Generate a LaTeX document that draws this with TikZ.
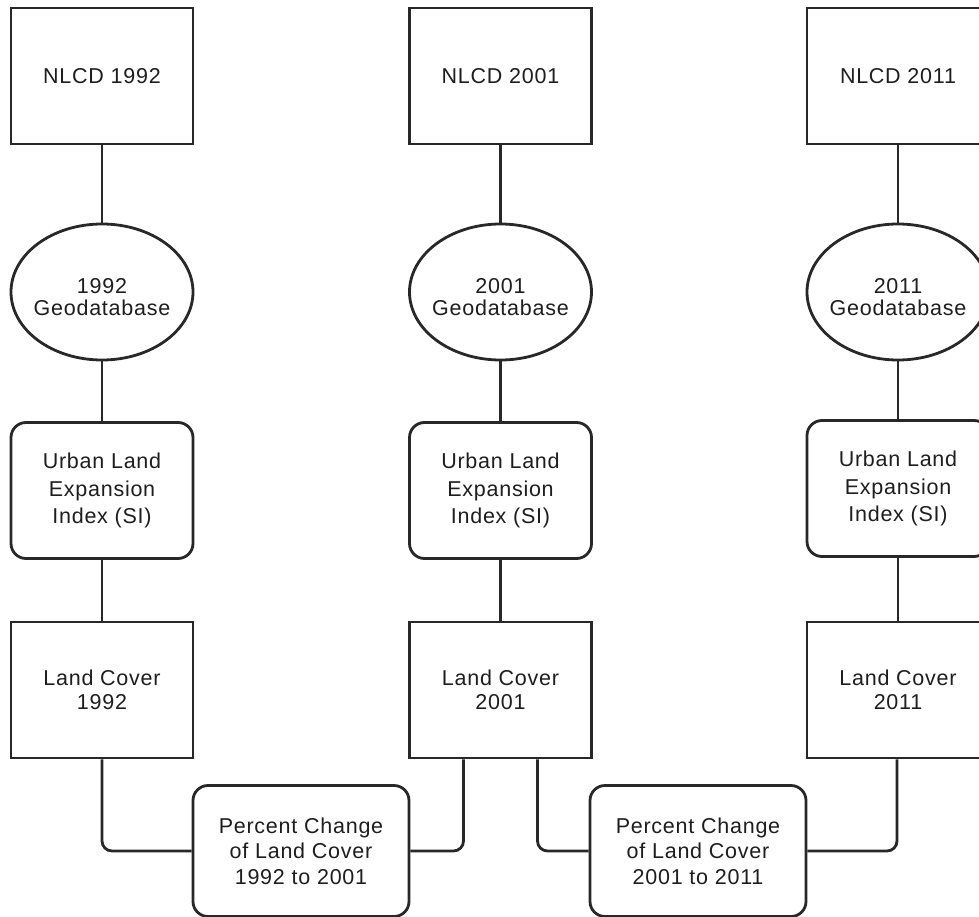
\documentclass[tikz,border=0pt]{standalone}
\usepackage{fontspec}
\setmainfont{Liberation Sans}[LetterSpace=3.5]
\usetikzlibrary{shapes.geometric}
\definecolor{lineclr}{RGB}{40,40,40}
\definecolor{textclr}{RGB}{30,30,30}
\tikzset{
  sqbox/.style={draw=lineclr, line width=2.8pt, fill=white, rectangle, minimum width=182pt, minimum height=136pt, inner sep=0pt, align=center, text=textclr},
  rndbox/.style={sqbox, rounded corners=15pt},
  pcbox/.style={rndbox, minimum width=216pt, minimum height=131pt},
  ellbox/.style={draw=lineclr, line width=2.8pt, fill=white, ellipse, minimum width=182pt, minimum height=136pt, inner sep=0pt},
  txt/.style={inner sep=0pt, align=center, text=textclr},
  fA/.style={font=\fontsize{21.5}{27.5}\selectfont},
  fB/.style={font=\fontsize{21.5}{22}\selectfont},
  fC/.style={font=\fontsize{21.5}{24}\selectfont},
  fD/.style={font=\fontsize{21.5}{25.5}\selectfont},
  conn/.style={draw=lineclr, line width=2.8pt, rounded corners=10pt},
}
\begin{document}
\begin{tikzpicture}[x=1pt, y=-1pt]
\useasboundingbox (0,0) rectangle (979,917);
\clip (0,0) rectangle (979,917);
\fill[white] (0,0) rectangle (979,917);

% column 1
\node[sqbox, fA] (n1) at (102,76) {NLCD 1992};
\node[ellbox] (e1) at (102,292) {};
\node[txt, fB] (e1t) at (102,297) {1992\\Geodatabase};
\node[rndbox, fA] (u1) at (102,490.5) {Urban Land\\Expansion\\Index (SI)};
\node[sqbox, fC] (l1) at (102,690) {Land Cover\\1992};

% column 2
\node[sqbox, fA] (n2) at (500.5,76) {NLCD 2001};
\node[ellbox] (e2) at (500.5,292) {};
\node[txt, fB] (e2t) at (500.5,297) {2001\\Geodatabase};
\node[rndbox, fA] (u2) at (500.5,490.5) {Urban Land\\Expansion\\Index (SI)};
\node[sqbox, fC] (l2) at (500.5,690) {Land Cover\\2001};

% column 3
\node[sqbox, fA] (n3) at (898,76) {NLCD 2011};
\node[ellbox] (e3) at (898,292) {};
\node[txt, fB] (e3t) at (898,297) {2011\\Geodatabase};
\node[rndbox, fA] (u3) at (898,488.5) {Urban Land\\Expansion\\Index (SI)};
\node[sqbox, fC] (l3) at (898,690) {Land Cover\\2011};

% percent change boxes
\node[pcbox, fD] (p1) at (301,851) {Percent Change\\of Land Cover\\1992 to 2001};
\node[pcbox, fD] (p2) at (698,851) {Percent Change\\of Land Cover\\2001 to 2011};

% vertical connectors
\foreach \c in {1,2,3}{
  \draw[conn] (n\c.south) -- (e\c.north);
  \draw[conn] (e\c.south) -- (u\c.north);
  \draw[conn] (u\c.south) -- (l\c.north);
}

% bottom connectors
\draw[conn] (l1.south) |- (p1.west);
\draw[conn] (p1.east) -| ([xshift=-37pt]l2.south);
\draw[conn] ([xshift=37pt]l2.south) |- (p2.west);
\draw[conn] (p2.east) -| ([xshift=-1pt]l3.south);
\end{tikzpicture}
\end{document}
